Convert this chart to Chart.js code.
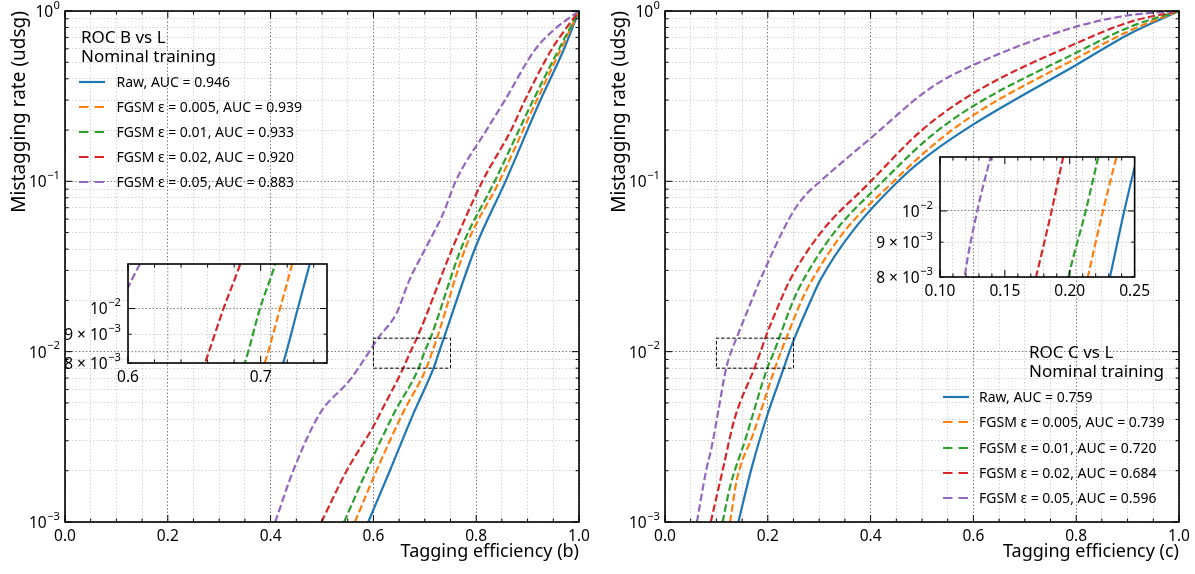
<!DOCTYPE html>
<html>
<head>
<meta charset="utf-8">
<script src="https://cdn.jsdelivr.net/npm/chart.js@4.4.0/dist/chart.umd.min.js"></script>
<style>
  html, body { margin: 0; padding: 0; background: #fff; }
  body { width: 1195px; height: 574px; position: relative; overflow: hidden; font-family: 'Noto Sans', 'DejaVu Sans', sans-serif; color: #000; }
  canvas { position: absolute; }
  .lg { position: absolute; white-space: nowrap; line-height: 1; transform: translateY(-50%); }
  .lg.t { font-size: 17px; }
  .lg.e { font-size: 14px; }
  svg.s { position: absolute; }
</style>
</head>
<body>
<canvas id="mainB" width="597" height="574" style="left:0px;top:0px"></canvas>
<canvas id="mainC" width="595" height="574" style="left:600px;top:0px"></canvas>
<canvas id="insetB" width="295" height="135" style="left:40px;top:256px"></canvas>
<canvas id="insetC" width="305" height="155" style="left:850px;top:149px"></canvas>
<div id="legends"></div>
<script>
// ================= DATA =================
// Panel (b): ROC B vs L, points are [tagging efficiency, mistagging rate]
const legendTitleB = ['ROC B vs L', 'Nominal training'];
const labelsB = ['Raw, AUC = 0.946', 'FGSM ε = 0.005, AUC = 0.939', 'FGSM ε = 0.01, AUC = 0.933', 'FGSM ε = 0.02, AUC = 0.920', 'FGSM ε = 0.05, AUC = 0.883'];
const rawB     = [[0.590,0.001],[0.632,0.002],[0.678,0.00434],[0.717,0.008],[0.728,0.01],[0.737,0.012],[0.799,0.0413],[0.857,0.1],[0.925,0.3],[0.970,0.59],[1,1]];
const fgsm005B = [[0.564,0.001],[0.606,0.002],[0.657,0.00434],[0.703,0.008],[0.7146,0.01],[0.7237,0.012],[0.780,0.0413],[0.845,0.1],[0.918,0.3],[0.964,0.59],[1,1]];
const fgsm01B  = [[0.543,0.001],[0.587,0.002],[0.640,0.00434],[0.688,0.008],[0.6995,0.01],[0.711,0.012],[0.772,0.0413],[0.836,0.1],[0.911,0.3],[0.960,0.59],[1,1]];
const fgsm02B  = [[0.499,0.001],[0.548,0.002],[0.599,0.0036],[0.613,0.00434],[0.658,0.008],[0.672,0.01],[0.6846,0.012],[0.755,0.0413],[0.812,0.1],[0.868,0.2],[0.895,0.3],[0.946,0.59],[0.972,0.77],[1,1]];
const fgsm05B  = [[0.409,0.001],[0.444,0.002],[0.496,0.00434],[0.554,0.0068],[0.592,0.01],[0.609,0.012],[0.645,0.0168],[0.670,0.0263],[0.703,0.0413],[0.736,0.065],[0.760,0.1],[0.820,0.2],[0.856,0.3],[0.914,0.59],[0.950,0.77],[1,1]];
const zoomXB = [0.6, 0.75];

// Panel (c): ROC C vs L
const legendTitleC = ['ROC C vs L', 'Nominal training'];
const labelsC = ['Raw, AUC = 0.759', 'FGSM ε = 0.005, AUC = 0.739', 'FGSM ε = 0.01, AUC = 0.720', 'FGSM ε = 0.02, AUC = 0.684', 'FGSM ε = 0.05, AUC = 0.596'];
const rawC     = [[0.1428,0.001],[0.169,0.0021],[0.198,0.00415],[0.231,0.008],[0.242,0.01],[0.252,0.012],[0.284,0.0201],[0.302,0.0263],[0.365,0.051],[0.468,0.11],[0.516,0.145],[0.600,0.216],[0.800,0.482],[0.906,0.74],[1,1]];
const fgsm005C = [[0.1266,0.001],[0.1396,0.00176],[0.172,0.00331],[0.214,0.008],[0.2256,0.01],[0.236,0.012],[0.266,0.0201],[0.286,0.0263],[0.347,0.05],[0.445,0.1],[0.516,0.158],[0.600,0.245],[0.800,0.527],[0.906,0.77],[1,1]];
const fgsm01C  = [[0.112,0.001],[0.1266,0.00161],[0.156,0.00303],[0.199,0.008],[0.2123,0.01],[0.222,0.012],[0.250,0.0201],[0.269,0.0263],[0.329,0.05],[0.424,0.1],[0.516,0.183],[0.600,0.277],[0.800,0.569],[0.906,0.81],[1,1]];
const fgsm02C  = [[0.089,0.001],[0.112,0.002],[0.135,0.004],[0.174,0.008],[0.186,0.01],[0.195,0.012],[0.225,0.02],[0.243,0.0263],[0.302,0.0495],[0.396,0.097],[0.500,0.20],[0.600,0.329],[0.800,0.646],[0.906,0.865],[1,1]];
const fgsm05C  = [[0.062,0.001],[0.080,0.002],[0.091,0.00277],[0.104,0.00454],[0.119,0.008],[0.1287,0.01],[0.139,0.012],[0.169,0.0201],[0.185,0.0263],[0.245,0.063],[0.270,0.081],[0.302,0.1],[0.400,0.179],[0.516,0.352],[0.600,0.482],[0.800,0.809],[0.906,0.947],[1,1]];
const zoomXC = [0.10, 0.25];

// shared zoom window (mistagging rate)
const zoomY = [0.008, 0.012];

// Tick values and labels
const xTicksMain = [0,0.05,0.1,0.15,0.2,0.25,0.3,0.35,0.4,0.45,0.5,0.55,0.6,0.65,0.7,0.75,0.8,0.85,0.9,0.95,1];
const xTickLabelsMain = ['0.0','','','','0.2','','','','0.4','','','','0.6','','','','0.8','','','','1.0'];
const xMajorsMain = [0,0.2,0.4,0.6,0.8,1];
const yTicksMain = [0.001,0.002,0.003,0.004,0.005,0.006,0.007,0.008,0.009,0.01,0.02,0.03,0.04,0.05,0.06,0.07,0.08,0.09,0.1,0.2,0.3,0.4,0.5,0.6,0.7,0.8,0.9,1];
const yTickLabelsMain = ['10⁻³','','','','','','','','','10⁻²','','','','','','','','','10⁻¹','','','','','','','','','10⁰'];
const yMajorsMain = [0.001,0.01,0.1,1];

const xTicksInsetB = [0.6,0.62,0.64,0.66,0.68,0.7,0.72,0.74];
const xTickLabelsInsetB = ['0.6','','','','','0.7','',''];
const xMajorsInsetB = [0.6,0.7];
const xTicksInsetC = [0.10,0.11,0.12,0.13,0.14,0.15,0.16,0.17,0.18,0.19,0.20,0.21,0.22,0.23,0.24,0.25];
const xTickLabelsInsetC = ['0.10','','','','','0.15','','','','','0.20','','','','','0.25'];
const xMajorsInsetC = [0.10,0.15,0.20,0.25];
const yTicksInset = [0.008,0.009,0.01];
const yTickLabelsInset = ['8 × 10⁻³','9 × 10⁻³','10⁻²'];
const yMajorsInset = [0.01];

// ================= STYLE =================
const FONT = "'Noto Sans', 'DejaVu Sans', sans-serif";
const TICK_SIZE = 15.5;
const COLORS = ['#1f77b4', '#ff7f0e', '#2ca02c', '#d62728', '#9467bd'];
const DASHES = [[], [7.4, 3.2], [7.4, 3.2], [7.4, 3.2], [7.4, 3.2]];
const GRID_MAJOR = 'rgba(60,60,60,0.85)';
const GRID_MINOR = 'rgba(185,185,185,0.8)';
Chart.defaults.font.family = FONT;
Chart.defaults.color = '#000';

const isIn = (arr, v) => arr.some(m => Math.abs(m - v) < 1e-9);
const SUP = { '⁻': '−', '⁰': '0', '¹': '1', '²': '2', '³': '3', '⁴': '4', '⁵': '5', '⁶': '6', '⁷': '7', '⁸': '8', '⁹': '9' };

// draws a label such as "9 × 10⁻³" with a real raised exponent, right-aligned at xRight
function drawSci(c, label, xRight, y, size) {
  const m = label.match(/^(.*?)([⁻⁰¹²³⁴⁵⁶⁷⁸⁹]+)$/);
  c.textBaseline = 'middle';
  c.textAlign = 'left';
  if (!m) { c.font = size + 'px ' + FONT; c.textAlign = 'right'; c.fillText(label, xRight, y); return; }
  const base = m[1];
  const sup = Array.from(m[2]).map(ch => SUP[ch]).join('');
  const ss = size * 0.72;
  c.font = ss + 'px ' + FONT;
  const ws = c.measureText(sup).width;
  c.fillText(sup, xRight - ws, y - size * 0.36);
  c.font = size + 'px ' + FONT;
  const wb = c.measureText(base).width;
  c.fillText(base, xRight - ws - wb - 0.5, y + size * 0.1);
}

function framePlugin(xMaj, yMaj, yLabels, labelPad, lenMaj, lenMin, whiteBg, overlay) {
  return {
    id: 'frameTicks',
    beforeDraw(chart) {
      if (!whiteBg) return;
      const a = chart.chartArea, c = chart.ctx;
      c.save(); c.fillStyle = '#fff';
      c.fillRect(a.left, a.top, a.right - a.left, a.bottom - a.top);
      c.restore();
    },
    beforeDatasetsDraw(chart) {
      if (!overlay) return;
      const m = overlay.chart; if (!m) return;
      const a = chart.chartArea, c = chart.ctx;
      c.save();
      c.beginPath(); c.rect(a.left, a.top, a.right - a.left, a.bottom - a.top); c.clip();
      c.strokeStyle = GRID_MAJOR; c.lineWidth = 0.8; c.setLineDash([1.5, 2]);
      overlay.xs.forEach(v => {
        const px = m.scales.x.getPixelForValue(v) + overlay.dx;
        c.beginPath(); c.moveTo(px, a.top); c.lineTo(px, a.bottom); c.stroke();
      });
      overlay.ys.forEach(v => {
        const py = m.scales.y.getPixelForValue(v) + overlay.dy;
        c.beginPath(); c.moveTo(a.left, py); c.lineTo(a.right, py); c.stroke();
      });
      c.restore();
    },
    afterDatasetsDraw(chart) {
      const a = chart.chartArea, c = chart.ctx, sx = chart.scales.x, sy = chart.scales.y;
      c.save();
      c.strokeStyle = '#000'; c.lineWidth = 1; c.setLineDash([]);
      sx.ticks.forEach(t => {
        const px = sx.getPixelForValue(t.value);
        const L = isIn(xMaj, t.value) ? lenMaj : lenMin;
        c.beginPath(); c.moveTo(px, a.bottom); c.lineTo(px, a.bottom - L);
        c.moveTo(px, a.top); c.lineTo(px, a.top + L); c.stroke();
      });
      sy.ticks.forEach(t => {
        const py = sy.getPixelForValue(t.value);
        const L = isIn(yMaj, t.value) ? lenMaj : lenMin;
        c.beginPath(); c.moveTo(a.left, py); c.lineTo(a.left + L, py);
        c.moveTo(a.right, py); c.lineTo(a.right - L, py); c.stroke();
      });
      c.lineWidth = 1.6;
      c.strokeRect(a.left, a.top, a.right - a.left, a.bottom - a.top);
      // y tick labels with superscript exponents
      c.fillStyle = '#000';
      sy.ticks.forEach((t, i) => {
        const lab = yLabels[i];
        if (lab) drawSci(c, lab, a.left - labelPad, sy.getPixelForValue(t.value), TICK_SIZE);
      });
      c.restore();
    }
  };
}

function seriesDatasets(series, lw) {
  return series.map((pts, i) => ({
    label: 's' + i,
    data: pts.map(p => ({ x: p[0], y: p[1] })),
    borderColor: COLORS[i],
    borderWidth: lw,
    borderDash: DASHES[i],
    pointRadius: 0,
    fill: false,
    cubicInterpolationMode: 'monotone',
    order: 10 - i
  }));
}

function makeMain(id, series, zoomX, xTitle, padRight) {
  const ds = seriesDatasets(series, 2.2);
  ds.push({
    label: 'zoom',
    data: [[zoomX[0], zoomY[0]], [zoomX[1], zoomY[0]], [zoomX[1], zoomY[1]], [zoomX[0], zoomY[1]], [zoomX[0], zoomY[0]]].map(p => ({ x: p[0], y: p[1] })),
    borderColor: '#000', borderWidth: 1, borderDash: [3.5, 2], pointRadius: 0, fill: false, tension: 0, order: 0
  });
  return new Chart(document.getElementById(id), {
    type: 'line',
    data: { datasets: ds },
    plugins: [framePlugin(xMajorsMain, yMajorsMain, yTickLabelsMain, 5, 7, 3.5, false, null)],
    options: {
      responsive: false, animation: false, events: [],
      layout: { padding: { top: 11, right: padRight, left: 0, bottom: 0 } },
      plugins: { legend: { display: false }, tooltip: { enabled: false } },
      scales: {
        x: {
          type: 'linear', min: 0, max: 1,
          afterBuildTicks: s => { s.ticks = xTicksMain.map(v => ({ value: v })); },
          afterFit: s => { s.height = 52; },
          ticks: { autoSkip: false, maxRotation: 0, padding: 5, font: { size: TICK_SIZE }, color: '#000', callback: (v, i) => xTickLabelsMain[i] },
          grid: { drawTicks: false, lineWidth: 0.8, color: c => (c.tick && isIn(xMajorsMain, c.tick.value)) ? GRID_MAJOR : GRID_MINOR },
          border: { display: false, dash: [1.5, 2] },
          title: { display: true, text: xTitle, align: 'end', font: { size: 18 }, color: '#000', padding: { top: 0, bottom: 11 } }
        },
        y: {
          type: 'logarithmic', min: 0.001, max: 1,
          afterBuildTicks: s => { s.ticks = yTicksMain.map(v => ({ value: v })); },
          afterFit: s => { s.width = 65; },
          ticks: { display: false, autoSkip: false },
          grid: { drawTicks: false, lineWidth: 0.8, color: c => (c.tick && isIn(yMajorsMain, c.tick.value)) ? GRID_MAJOR : GRID_MINOR },
          border: { display: false, dash: [1.5, 2] },
          title: { display: true, text: 'Mistagging rate (udsg)', align: 'end', font: { size: 19 }, color: '#000', padding: { top: 8.5, bottom: 0 } }
        }
      }
    }
  });
}

function makeInset(id, series, zoomX, xTicks, xLabels, xMaj, yW, xH, padTop, padRight, overlay) {
  return new Chart(document.getElementById(id), {
    type: 'line',
    data: { datasets: seriesDatasets(series, 2.2) },
    plugins: [framePlugin(xMaj, yMajorsInset, yTickLabelsInset, 7, 7, 3.5, true, overlay)],
    options: {
      responsive: false, animation: false, events: [],
      layout: { padding: { top: padTop, right: padRight, left: 0, bottom: 0 } },
      plugins: { legend: { display: false }, tooltip: { enabled: false } },
      scales: {
        x: {
          type: 'linear', min: zoomX[0], max: zoomX[1],
          afterBuildTicks: s => { s.ticks = xTicks.map(v => ({ value: v })); },
          afterFit: s => { s.height = xH; },
          ticks: { autoSkip: false, maxRotation: 0, padding: 5, font: { size: TICK_SIZE }, color: '#000', callback: (v, i) => xLabels[i] },
          grid: { drawTicks: false, lineWidth: 0.8, color: GRID_MINOR },
          border: { display: false, dash: [1.5, 2] }
        },
        y: {
          type: 'logarithmic', min: zoomY[0], max: zoomY[1],
          afterBuildTicks: s => { s.ticks = yTicksInset.map(v => ({ value: v })); },
          afterFit: s => { s.width = yW; },
          ticks: { display: false, autoSkip: false },
          grid: { drawTicks: false, lineWidth: 0.8, color: c => (c.tick && isIn(yMajorsInset, c.tick.value)) ? GRID_MAJOR : GRID_MINOR },
          border: { display: false, dash: [1.5, 2] }
        }
      }
    }
  });
}

const seriesB = [rawB, fgsm005B, fgsm01B, fgsm02B, fgsm05B];
const seriesC = [rawC, fgsm005C, fgsm01C, fgsm02C, fgsm05C];

const chartB = makeMain('mainB', seriesB, zoomXB, 'Tagging efficiency (b)', 18);
const chartC = makeMain('mainC', seriesC, zoomXC, 'Tagging efficiency (c)', 16);
makeInset('insetB', seriesB, zoomXB, xTicksInsetB, xTickLabelsInsetB, xMajorsInsetB, 88, 28, 8, 8,
  { chart: chartB, dx: 0 - 40, dy: 0 - 256, xs: xMajorsMain, ys: yMajorsMain });
makeInset('insetC', seriesC, zoomXC, xTicksInsetC, xTickLabelsInsetC, xMajorsInsetC, 90, 27, 8, 8,
  { chart: chartC, dx: 600 - 850, dy: 0 - 149, xs: xMajorsMain, ys: yMajorsMain });

// ================= LEGENDS (HTML text) =================
function buildLegend(titles, labels, titleX, titleYs, sampleX, textX, entryY0, entryStep) {
  const root = document.getElementById('legends');
  titles.forEach((t, i) => {
    const d = document.createElement('div');
    d.className = 'lg t'; d.textContent = t;
    d.style.left = titleX + 'px'; d.style.top = titleYs[i] + 'px';
    root.appendChild(d);
  });
  labels.forEach((t, i) => {
    const y = entryY0 + i * entryStep;
    const ns = 'http://www.w3.org/2000/svg';
    const svg = document.createElementNS(ns, 'svg');
    svg.setAttribute('class', 's'); svg.setAttribute('width', '26'); svg.setAttribute('height', '8');
    svg.style.left = sampleX + 'px'; svg.style.top = (y - 4) + 'px';
    const ln = document.createElementNS(ns, 'line');
    ln.setAttribute('x1', '0'); ln.setAttribute('x2', '26'); ln.setAttribute('y1', '4'); ln.setAttribute('y2', '4');
    ln.setAttribute('stroke', COLORS[i]); ln.setAttribute('stroke-width', '2.2');
    if (i > 0) ln.setAttribute('stroke-dasharray', '9.5 6');
    svg.appendChild(ln); root.appendChild(svg);
    const d = document.createElement('div');
    d.className = 'lg e'; d.textContent = t;
    d.style.left = textX + 'px'; d.style.top = y + 'px';
    root.appendChild(d);
  });
}
buildLegend(legendTitleB, labelsB, 81, [35.5, 54.5], 79, 116.5, 82, 25.1);
buildLegend(legendTitleC, labelsC, 1029, [350.5, 369.5], 942.5, 979, 396.7, 25.4);
</script>
</body>
</html>
